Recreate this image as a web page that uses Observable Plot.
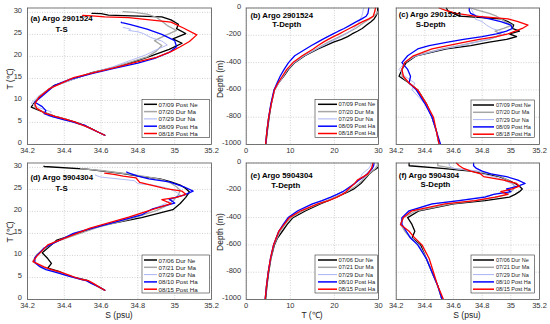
<!DOCTYPE html>
<html><head><meta charset="utf-8">
<script src="https://cdn.jsdelivr.net/npm/d3@7"></script>
<script src="https://cdn.jsdelivr.net/npm/@observablehq/plot@0.6"></script>
<style>
body{margin:0;background:#fff;}
#fig{position:relative;width:550px;height:324px;overflow:hidden;font-family:"Liberation Sans",Arial,sans-serif;background:#fff;}
</style></head><body><div id="fig"></div>
<script>
// depth levels (m) shared by all profiles
const depth = [0,20,40,60,80,100,125,150,170,190,210,230,250,275,300,350,400,450,500,550,600,700,800,900,1000,1200,1500,2000];

// ---- Argo 2901524 ----
const floatA = "Argo 2901524";
const datesA = ["07/09 Post Ne","07/20 Dur Ma","07/29 Dur Na","08/09 Post Ha","08/18 Post Ha"];
const tempA0709 = [29.8,29.8,29.7,29.4,29.0,28.3,27.3,26.3,25.2,24.0,23.0,21.6,19.8,18.0,16.3,13.3,11.0,9.6,8.5,7.3,6.4,5.7,5.2,4.8,4.45,3.7,2.9,2.1];
const salA0709  = [34.55,34.56,34.6,34.64,34.93,34.98,35.02,35.01,35.06,34.99,35.04,34.97,34.85,34.72,34.55,34.34,34.27,34.24,34.22,34.29,34.35,34.41,34.45,34.48,34.5,34.54,34.58,34.62];
const tempA0720 = [30.2,30.0,29.6,28.9,28.0,27.0,25.9,24.8,23.6,22.5,21.2,19.9,18.6,17.2,15.9,13.0,10.9,9.4,8.4,7.3,6.4,5.7,5.1,4.7,4.4,3.7,2.9,2.1];
const salA0720  = [34.72,34.78,34.85,34.9,34.93,34.96,35.01,34.95,34.89,34.93,34.9,34.85,34.75,34.64,34.52,34.33,34.26,34.24,34.24,34.29,34.35,34.41,34.45,34.48,34.5,34.54,34.58,34.62];
const tempA0729 = [26.6,26.5,26.4,26.2,25.9,25.6,25.2,24.3,23.5,22.6,21.5,20.3,19.1,17.6,16.0,13.2,10.9,9.4,8.4,7.4,6.5,5.7,5.1,4.7,4.4,3.7,2.9,2.1];
const salA0729  = [34.72,34.73,34.74,34.76,34.75,34.8,34.83,34.87,34.93,34.96,34.9,34.84,34.76,34.66,34.53,34.34,34.26,34.22,34.26,34.33,34.31,34.4,34.45,34.48,34.5,34.54,34.58,34.62];
const tempA0809 = [27.8,27.7,27.6,27.2,26.2,25.0,23.6,22.2,20.9,19.7,18.5,17.3,16.2,14.8,13.5,11.0,9.6,8.6,7.7,7.0,6.3,5.6,5.1,4.7,4.4,3.7,2.9,2.1];
const salA0809  = [34.71,34.71,34.72,34.76,34.85,34.93,35.0,35.01,34.97,34.9,34.8,34.67,34.56,34.43,34.35,34.28,34.24,34.28,34.3,34.29,34.34,34.4,34.45,34.48,34.51,34.54,34.58,34.62];
const tempA0818 = [29.3,29.2,29.0,28.8,27.8,26.4,24.9,23.4,22.2,21.1,19.8,18.6,17.5,16.3,15.2,12.7,10.6,9.2,8.2,7.2,6.4,5.7,5.1,4.7,4.4,3.7,2.9,2.1];
const salA0818  = [34.5,34.55,34.62,34.75,34.98,35.05,35.12,35.08,35.03,34.98,34.9,34.78,34.68,34.56,34.45,34.32,34.26,34.24,34.25,34.29,34.35,34.41,34.46,34.48,34.5,34.54,34.58,34.62];

// ---- Argo 5904304 ----
const floatB = "Argo 5904304";
const datesB = ["07/06 Dur Ne","07/21 Dur Ma","07/29 Dur Na","08/10 Post Ha","08/15 Post Ha"];
const tempB0706 = [30.3,30.2,29.6,28.6,27.9,27.4,26.7,26.0,25.2,24.4,23.2,21.8,20.4,18.6,16.8,13.5,10.6,9.3,8.2,7.1,6.4,5.6,5.1,4.7,4.4,3.7,2.8,2.1];
const salB0706  = [34.29,34.29,34.52,34.72,34.82,34.92,34.98,35.03,35.06,35.08,35.06,35.03,34.99,34.82,34.6,34.36,34.28,34.31,34.33,34.31,34.37,34.41,34.45,34.49,34.52,34.55,34.59,34.62];
const tempB0721 = [29.8,29.7,29.3,28.5,27.8,27.2,26.4,25.6,24.8,23.8,22.8,21.6,20.2,18.3,16.4,12.9,10.2,8.8,7.7,7.0,6.3,5.6,5.0,4.6,4.3,3.6,2.8,2.1];
const salB0721  = [34.49,34.49,34.6,34.75,34.86,34.93,34.98,35.01,35.03,35.02,35.0,34.97,34.9,34.76,34.58,34.34,34.25,34.23,34.26,34.3,34.36,34.41,34.45,34.49,34.52,34.55,34.59,34.62];
const tempB0729 = [28.3,28.2,27.8,27.0,26.3,26.0,25.4,24.6,23.8,22.9,21.8,20.5,19.1,17.2,15.2,12.0,9.6,8.5,7.3,6.8,6.2,5.5,5.0,4.6,4.3,3.6,2.8,2.1];
const salB0729  = [34.57,34.57,34.6,34.78,34.8,34.88,34.95,35.0,35.03,34.99,34.95,34.88,34.79,34.63,34.46,34.3,34.24,34.23,34.27,34.31,34.36,34.41,34.45,34.49,34.52,34.55,34.59,34.62];
const tempB0810 = [29.0,28.9,28.6,28.0,27.4,26.7,25.6,24.6,23.7,22.8,21.9,20.6,19.2,17.2,15.0,11.7,9.5,8.4,7.4,6.8,6.2,5.5,5.0,4.6,4.3,3.6,2.8,2.1];
const salB0810  = [34.74,34.74,34.76,34.8,34.86,34.97,35.05,35.1,35.05,34.97,35.0,34.88,34.82,34.64,34.45,34.29,34.24,34.24,34.27,34.3,34.35,34.41,34.45,34.49,34.52,34.55,34.59,34.62];
const tempB0815 = [28.7,28.6,28.4,28.0,27.6,26.6,25.2,24.6,23.9,23.2,22.7,21.8,20.6,18.7,16.2,12.4,9.8,8.6,7.4,6.8,6.2,5.5,5.0,4.6,4.3,3.6,2.8,2.1];
const salB0815  = [34.62,34.64,34.67,34.72,34.79,34.81,34.95,35.04,35.06,35.01,34.93,34.98,34.89,34.75,34.54,34.31,34.25,34.23,34.29,34.33,34.38,34.43,34.46,34.49,34.53,34.56,34.59,34.62];

// axis ticks
const salTicks = [34.2,34.4,34.6,34.8,35,35.2];
const tsTempTicks = [0,5,10,15,20,25,30];
const depthTicks = [0,-200,-400,-600,-800,-1000];
const tempTicks = [0,10,20,30];

// styles
const colors = ["#000000","#a6a6a6","#a9b3f3","#0000ff","#ff0000"];
const lineW = [1.3,1.3,0.9,1.3,1.3];

function profiles(temps, sals){
  return temps.map((T,k)=>depth.map((d,i)=>({depth:d, T:T[i], S:sals[k][i]})));
}
const profA = profiles([tempA0709,tempA0720,tempA0729,tempA0809,tempA0818],[salA0709,salA0720,salA0729,salA0809,salA0818]);
const profB = profiles([tempB0706,tempB0721,tempB0729,tempB0810,tempB0815],[salB0706,salB0721,salB0729,salB0810,salB0815]);

const fig = document.getElementById("fig");
const fmtS = d => String(+d.toFixed(1));
const fmtN = d => String(d);

function panel(o){
  const marks = [
    Plot.gridX(o.xTicks,{stroke:"#777",strokeOpacity:0.55,strokeWidth:0.6,strokeDasharray:"1,1.5"}),
    Plot.gridY(o.yTicks,{stroke:"#777",strokeOpacity:0.55,strokeWidth:0.6,strokeDasharray:"1,1.5"})
  ];
  o.prof.forEach((rows,k)=>marks.push(Plot.line(rows,{x:o.x,y:o.y,stroke:colors[k],strokeWidth:lineW[k],clip:true})));
  marks.push(Plot.frame({stroke:"#555",strokeWidth:0.8}));
  marks.push(Plot.axisX(o.xTicks,{tickSize:0,tickPadding:3.5,tickFormat:o.xFmt,label:null,fill:"#333"}));
  if(o.yAxis) marks.push(Plot.axisY(o.yTicks,{tickSize:0,tickPadding:o.yPad,tickFormat:o.yFmt,label:null,fill:"#333",dy:-1.5}));
  marks.push(Plot.text([o.title],{frameAnchor:"top-left",dx:o.t1[0],dy:o.t1[1],textAnchor:"start",lineAnchor:"middle",fontWeight:"bold",fontSize:7.8,fill:"#000"}));
  marks.push(Plot.text([o.sub],{frameAnchor:"top-left",dx:o.t2[0],dy:o.t2[1],textAnchor:"start",lineAnchor:"middle",fontWeight:"bold",fontSize:7.8,fill:"#000"}));
  const svg = Plot.plot({
    width:o.w, height:o.h,
    marginLeft:o.m[0], marginRight:o.m[1], marginTop:o.m[2], marginBottom:o.m[3],
    x:{type:"linear",domain:o.xd, axis: null},
    y:{type:"linear",domain:o.yd, axis: null},
    style:{fontFamily:'"Liberation Sans", Arial, sans-serif',fontSize:"7.5px",color:"#333",background:"transparent",overflow:"visible"},
    marks
  });
  svg.style.position="absolute";
  svg.style.left=o.left+"px";
  svg.style.top=o.top+"px";
  fig.appendChild(svg);
}

const rowsTop = {top:0,h:160,mT:7.5,mB:16};
const rowsBot = {top:160,h:164,mT:2.5,mB:25};
const cols = [
  {left:0,w:215,mL:27,mR:4},
  {left:215,w:165,mL:30.7,mR:2},
  {left:380,w:170,mL:15.7,mR:11}
];
const letters = [["(a)","(b)","(c)"],["(d)","(e)","(f)"]];
const titlePos = [
  [[[3,10.7],[28,21.7]],[[4.3,7.5],[26,16.8]],[[2.5,6.5],[19.5,16.5]]],
  [[[3,14.2],[28,25.8]],[[4.3,12.5],[25,22.5]],[[2.6,12.5],[24.3,21.5]]]
];
[[profA,floatA,rowsTop],[profB,floatB,rowsBot]].forEach(([prof,name,r],ri)=>{
  const base = (c)=>({left:cols[c].left,top:r.top,w:cols[c].w,h:r.h,m:[cols[c].mL,cols[c].mR,r.mT,r.mB],prof});
  panel({...base(0),x:"S",y:"T",xd:[34.2,35.2],yd:[0,31],xTicks:salTicks,yTicks:tsTempTicks,xFmt:fmtS,yFmt:fmtN,yAxis:true,yPad:5.5,
    title:`${letters[ri][0]} ${name}`,sub:"T-S",t1:titlePos[ri][0][0],t2:titlePos[ri][0][1]});
  panel({...base(1),x:"T",y:d=>-d.depth,xd:[0,30],yd:[-1000,0],xTicks:tempTicks,yTicks:depthTicks,xFmt:fmtN,yFmt:fmtN,yAxis:true,yPad:5,
    title:`${letters[ri][1]} ${name}`,sub:"T-Depth",t1:titlePos[ri][1][0],t2:titlePos[ri][1][1]});
  panel({...base(2),x:"S",y:d=>-d.depth,xd:[34.2,35.2],yd:[-1000,0],xTicks:salTicks,yTicks:depthTicks,xFmt:fmtS,yFmt:fmtN,yAxis:false,
    title:`${letters[ri][2]} ${name}`,sub:"S-Depth",t1:titlePos[ri][2][0],t2:titlePos[ri][2][1]});
});

// overlay: axis titles and legends
const ov = d3.create("svg").attr("width",550).attr("height",324)
  .style("position","absolute").style("left","0px").style("top","0px")
  .style("font-family",'"Liberation Sans", Arial, sans-serif');
const axisTitles = [
  {t:"T (℃)",x:10,y:79,r:true},{t:"T (℃)",x:10,y:232,r:true},
  {t:"Depth (m)",x:220,y:79,r:true},{t:"Depth (m)",x:220,y:232,r:true},
  {t:"S (psu)",x:119,y:315,r:false},{t:"T (℃)",x:312,y:315,r:false},{t:"S (psu)",x:467,y:315,r:false}
];
axisTitles.forEach(a=>{
  ov.append("text").text(a.t).attr("x",0).attr("y",0)
    .attr("transform",`translate(${a.x},${a.y})${a.r?" rotate(-90)":""}`)
    .attr("text-anchor","middle").attr("dominant-baseline","central")
    .attr("font-size",8.5).attr("fill","#222");
});
function legend(left,top,w,h,labels,l0,l1,tx,fs){
  const g = ov.append("g").attr("transform",`translate(${left},${top})`);
  g.append("rect").attr("x",0).attr("y",0).attr("width",w).attr("height",h)
    .attr("fill","#fff").attr("stroke","#333").attr("stroke-width",0.6);
  const clipId = "clip"+Math.round(left)+"_"+Math.round(top);
  g.append("clipPath").attr("id",clipId).append("rect").attr("width",w-0.5).attr("height",h);
  labels.forEach((lab,k)=>{
    const y = 5 + k*7.3;
    g.append("line").attr("x1",l0).attr("x2",l1).attr("y1",y).attr("y2",y)
      .attr("stroke",colors[k]).attr("stroke-width",k===2?1:1.5);
    g.append("text").text(lab).attr("x",tx).attr("y",y).attr("dominant-baseline","central")
      .attr("font-size",fs).attr("fill","#222").attr("clip-path",`url(#${clipId})`);
  });
}
legend(142,99.3,67.5,38.4,datesA,2,15,16.5,6.2);
legend(315,99.3,62.5,38,datesA,3,22,23.5,5.8);
legend(471,100,63.5,37.5,datesA,2,23,25,5.5);
legend(142,255,67.5,38,datesB,2,15,16.5,6.2);
legend(315,255,62.5,38,datesB,3,22,23.5,5.8);
legend(471,255,63.5,38,datesB,2,23,25,5.5);
fig.appendChild(ov.node());
</script></body></html>
